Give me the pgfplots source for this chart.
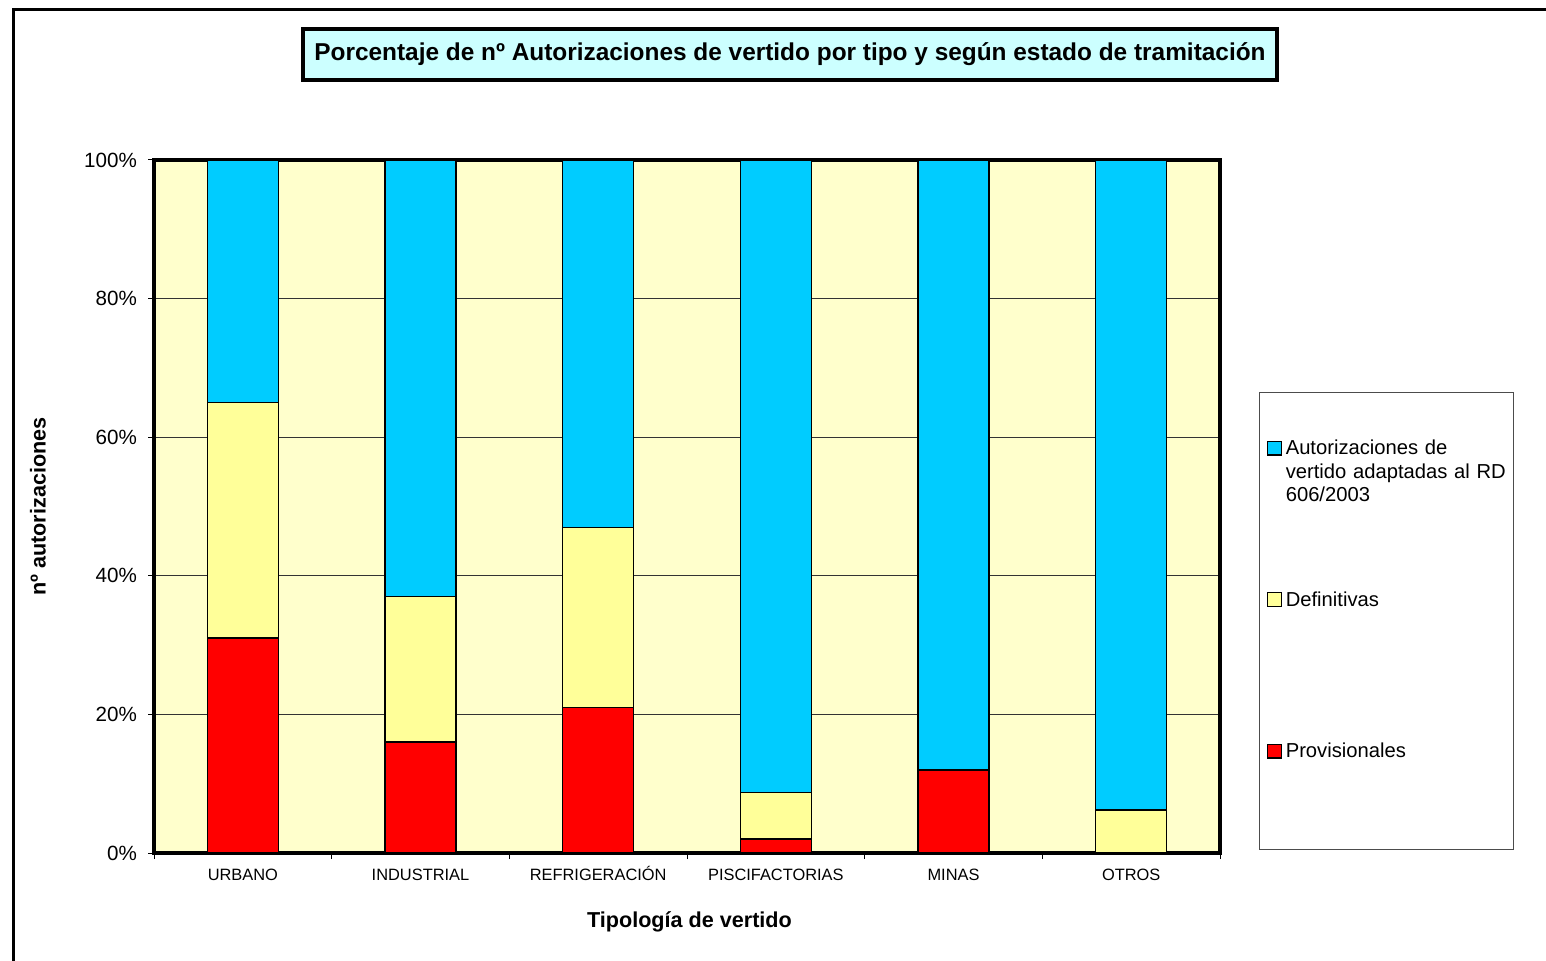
\documentclass[border=0pt]{standalone}
\usepackage{pgfplots}
\pgfplotsset{compat=1.18}
\usepackage{fontspec}
\setmainfont{Liberation Sans}
\definecolor{cblue}{HTML}{00CCFF}
\definecolor{cyel}{HTML}{FFFF99}
\definecolor{cred}{HTML}{FF0000}
\definecolor{plotbg}{HTML}{FFFFCC}
\definecolor{titlebg}{HTML}{CCFFFF}
\begin{document}
\begin{tikzpicture}
\begin{scope}[x=0.5pt,y=-0.5pt]
\useasboundingbox (0,0) rectangle (1546,961);
\draw[line width=1.5pt] (13.5,970) -- (13.5,10) -- (1560,10);
\node[draw, line width=1.6pt, fill=titlebg, minimum width=487pt, minimum height=25.5pt, inner sep=0pt,
  font=\fontsize{12.2}{14}\selectfont\bfseries] at (790,54.5)
  {Porcentaje de nº Autorizaciones de vertido por tipo y según estado de tramitación};
\draw[black!70, line width=0.5pt, fill=white] (1259,393) rectangle (1513,849);
\end{scope}
\begin{axis}[
  at={(77pt,-426.5pt)}, anchor=south west, scale only axis,
  width=533pt, height=346.5pt,
  ybar stacked, bar width=0.4,
  xmin=-0.5, xmax=5.5, ymin=0, ymax=100,
  axis background/.style={fill=plotbg},
  /pgf/number format/assume math mode=true,
  tick align=outside, tick pos=left,
  major tick length=3pt,
  tick style={black, line width=0.5pt},
  xtick={-0.5,0.5,1.5,2.5,3.5,4.5,5.5},
  xticklabels={,,,,,,},
  extra x ticks={0,1,2,3,4,5},
  extra x tick labels={URBANO,INDUSTRIAL,REFRIGERACIÓN,PISCIFACTORIAS,MINAS,OTROS},
  extra x tick style={major tick length=0pt, xticklabel style={font=\fontsize{8.2}{9}\selectfont, text height=6pt, text depth=0pt, yshift=-4pt}},
  ytick={0,20,40,60,80,100},
  yticklabels={0\%,20\%,40\%,60\%,80\%,100\%},
  yticklabel style={font=\fontsize{10.3}{12}\selectfont, xshift=-2pt},
  ymajorgrids, grid style={black!80, line width=0.5pt},
  axis line style={line width=1.6pt},
  xlabel={Tipología de vertido},
  ylabel={nº autorizaciones},
  every axis x label/.style={at={(axis description cs:0.5023,-0.0996)}, anchor=center, font=\fontsize{10.8}{12}\selectfont\bfseries},
  every axis y label/.style={at={(axis description cs:-0.1088,0.5)}, anchor=center, rotate=90, font=\fontsize{10.8}{12}\selectfont\bfseries},
  legend image code/.code={\draw[#1, line width=0.6pt] (0pt,0pt) rectangle (6.8pt,6.8pt);},
  reverse legend,
  legend style={at={(axis description cs:1.04409,0.59596)}, anchor=north west,
    draw=none, fill=none, inner sep=0pt, outer sep=0pt,
    font=\fontsize{10.1}{11.5}\selectfont, row sep=38.25pt, column sep=2pt,
    cells={anchor=base west},
    nodes={inner sep=0pt, text height=7.5pt, text depth=30pt, text width=114pt, align=left}},
]
\addplot[fill=cred, draw=black, line width=0.75pt] coordinates {(0,31) (1,16) (2,21) (3,2) (4,12) (5,0)};
\addlegendentry{Provisionales}
\addplot[fill=cyel, draw=black, line width=0.75pt] coordinates {(0,34) (1,21) (2,26) (3,6.7) (4,0) (5,6.2)};
\addlegendentry{Definitivas}
\addplot[fill=cblue, draw=black, line width=0.75pt] coordinates {(0,35) (1,63) (2,53) (3,91.3) (4,88) (5,93.8)};
\addlegendentry{Autorizaciones de\\vertido adaptadas al RD\\606/2003}
\draw[line width=1.6pt] (rel axis cs:0,0) rectangle (rel axis cs:1,1);
\end{axis}
\end{tikzpicture}
\end{document}
